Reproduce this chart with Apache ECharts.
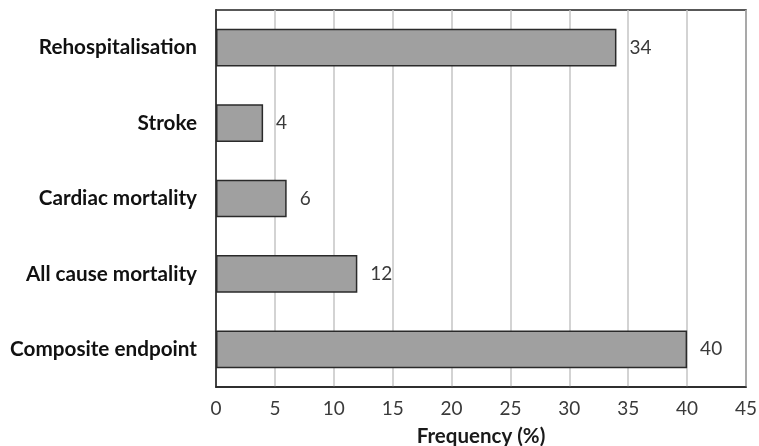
<!DOCTYPE html>
<html><head><meta charset="utf-8">
<script src="https://cdn.jsdelivr.net/npm/echarts@6/dist/echarts.min.js"></script>
<style>html,body{margin:0;padding:0;background:#fff}#c{width:759px;height:446px}</style>
</head><body><div id="c"></div>
<script>
const categories = ["Composite endpoint", "All cause mortality", "Cardiac mortality", "Stroke", "Rehospitalisation"];
const values = [40, 12, 6, 4, 34];
const xTicks = [0, 5, 10, 15, 20, 25, 30, 35, 40, 45];
const xName = "Frequency (%)";

const chart = echarts.init(document.getElementById('c'), null, {renderer: 'canvas'});
chart.setOption({
  animation: false,
  backgroundColor: '#fff',
  grid: {left: 216, right: 13, top: 10, bottom: 59, containLabel: false, outerBoundsMode: 'none',
         show: true, borderColor: '#222', borderWidth: 1.5, backgroundColor: 'transparent'},
  xAxis: {
    type: 'value', min: xTicks[0], max: xTicks[xTicks.length - 1], interval: 5,
    name: xName, nameLocation: 'middle', nameGap: 39,
    nameTextStyle: {fontFamily: 'Lato', fontWeight: 'bold', fontSize: 20.5, color: '#1a1a1a'},
    axisLine: {show: true, lineStyle: {color: '#222', width: 1.5}},
    axisTick: {show: false},
    axisLabel: {fontFamily: 'Lato', fontSize: 19, color: '#3a3a3a', margin: 12},
    splitLine: {show: true, lineStyle: {color: '#c4c4c4', width: 1.5}}
  },
  yAxis: {
    type: 'category', data: categories,
    axisLine: {show: true, lineStyle: {color: '#222', width: 1.5}},
    axisTick: {show: false},
    axisLabel: {fontFamily: 'Lato', fontWeight: 'bold', fontSize: 20.7, color: '#111', margin: 19},
    splitLine: {show: false}
  },
  series: [{
    type: 'bar', data: values, barWidth: '50%',
    itemStyle: {color: '#a0a0a0', borderColor: '#2a2a2a', borderWidth: 1.5},
    label: {show: true, position: 'right', distance: 13, fontFamily: 'Lato', fontSize: 19, color: '#3a3a3a'}
  }]
});
</script></body></html>
